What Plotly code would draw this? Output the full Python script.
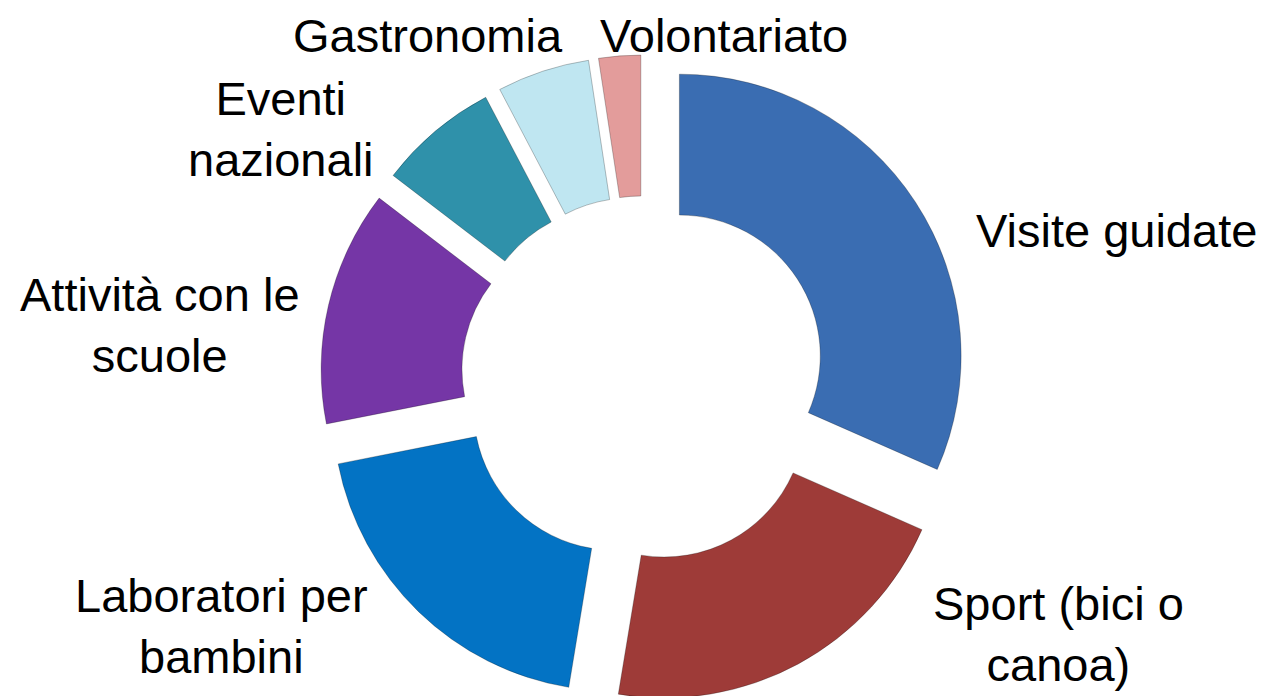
import plotly.graph_objects as go

categories = ["Visite guidate", "Sport (bici o<br>canoa)", "Laboratori per<br>bambini",
              "Attività con le<br>scuole", "Eventi<br>nazionali", "Gastronomia", "Volontariato"]
values = [31.6, 21.0, 19.3, 13.5, 6.9, 5.3, 2.4]
colors = ["#3A6DB2", "#9E3B38", "#0373C4", "#7536A6", "#2F91AA", "#BFE6F1", "#E39C9B"]

# label placement (pixel centres in the 1266x696 canvas)
label_pos = [(1108, 222), (1050, 626), (214, 618), (152, 317), (273, 121), (420, 27), (716, 27)]

W, H = 1266, 696
cx, cy = 636, 371
half = 324

fig = go.Figure(go.Pie(
    labels=categories,
    values=values,
    sort=False,
    direction="clockwise",
    rotation=0,
    hole=0.5,
    pull=0.15,
    marker=dict(colors=colors, line=dict(color="rgba(0,0,0,0.25)", width=1)),
    textinfo="none",
    hoverinfo="label+percent",
    showlegend=False,
    automargin=False,
    domain=dict(x=[(cx - 345) / W, (cx + 345) / W],
                y=[max(0.0, 1 - (cy + half) / H), 1 - (cy - half) / H]),
))

for lab, (px, py) in zip(categories, label_pos):
    fig.add_annotation(
        text=lab, x=px / W, y=1 - py / H, xref="paper", yref="paper",
        xanchor="center", yanchor="middle", align="center", showarrow=False,
        font=dict(family="Arial, Liberation Sans, sans-serif", size=47, color="#000000"),
    )

fig.update_layout(
    width=W, height=H,
    margin=dict(l=0, r=0, t=0, b=0),
    paper_bgcolor="white",
    plot_bgcolor="white",
    font=dict(family="Arial, Liberation Sans, sans-serif"),
)

fig.write_html("out.html")
